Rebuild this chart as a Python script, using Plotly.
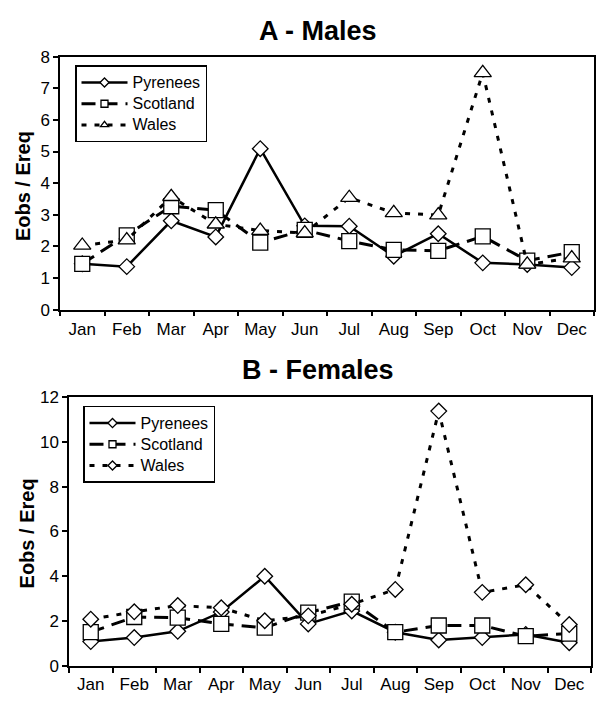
import plotly.graph_objects as go

months = ["Jan", "Feb", "Mar", "Apr", "May", "Jun", "Jul", "Aug", "Sep", "Oct", "Nov", "Dec"]

# A - Males
males_pyrenees = [1.45, 1.36, 2.81, 2.30, 5.09, 2.65, 2.64, 1.69, 2.40, 1.48, 1.43, 1.33]
males_scotland = [1.45, 2.35, 3.27, 3.15, 2.12, 2.52, 2.17, 1.89, 1.86, 2.32, 1.55, 1.82]
males_wales = [2.03, 2.20, 3.57, 2.70, 2.50, 2.42, 3.54, 3.06, 2.99, 7.49, 1.43, 1.63]

# B - Females
females_pyrenees = [1.08, 1.26, 1.54, 2.40, 4.00, 1.87, 2.45, 1.50, 1.15, 1.26, 1.40, 1.03]
females_scotland = [1.50, 2.18, 2.15, 1.87, 1.70, 2.37, 2.87, 1.50, 1.80, 1.80, 1.32, 1.44]
females_wales = [2.08, 2.41, 2.69, 2.59, 2.01, 2.23, 2.75, 3.41, 11.38, 3.28, 3.62, 1.84]

series_names = ["Pyrenees", "Scotland", "Wales"]

W, H = 607, 703
FONT = "Liberation Sans, Arial, sans-serif"

def px_x(v):
    return v / W

def px_y(v):
    return 1 - v / H

styles_top = [
    dict(line=dict(color="black", width=2.5, dash="solid"), symbol="diamond", size=12),
    dict(line=dict(color="black", width=3, dash="14px,8px"), symbol="square", size=15),
    dict(line=dict(color="black", width=3, dash="5px,8px"), symbol="triangle-up", size=15),
]
styles_bot = [
    dict(line=dict(color="black", width=2.5, dash="solid"), symbol="diamond", size=12),
    dict(line=dict(color="black", width=3, dash="14px,8px"), symbol="square", size=15),
    dict(line=dict(color="black", width=3, dash="5px,8px"), symbol="diamond", size=12),
]

fig = go.Figure()

def add_panel(data, styles, xa, ya, legend):
    for name, vals, st in zip(series_names, data, styles):
        fig.add_trace(go.Scatter(
            x=months, y=vals, mode="lines+markers", name=name,
            line=st["line"],
            marker=dict(symbol=st["symbol"], size=st["size"], color="white",
                        line=dict(color="black", width=1.3)),
            xaxis=xa, yaxis=ya, showlegend=False, cliponaxis=False,
        ))
    for name, st in zip(series_names, styles):
        fig.add_trace(go.Scatter(
            x=[None], y=[None], mode="lines+markers",
            name="<span style='font-size:16px'>" + name + "</span>",
            line=st["line"],
            marker=dict(symbol=st["symbol"], size=7, color="white",
                        line=dict(color="black", width=1.3)),
            xaxis=xa, yaxis=ya, showlegend=True, legend=legend,
        ))

add_panel([males_pyrenees, males_scotland, males_wales], styles_top, "x", "y", "legend")
add_panel([females_pyrenees, females_scotland, females_wales], styles_bot, "x2", "y2", "legend2")

axis_common = dict(
    showline=True, linecolor="black", linewidth=1.5, mirror=True,
    ticks="outside", ticklen=5, tickcolor="black", tickwidth=1.5,
    showgrid=False, zeroline=False,
    tickfont=dict(family=FONT, size=17, color="black"),
)

legend_common = dict(
    xanchor="left", yanchor="top",
    bordercolor="black", borderwidth=1.5, bgcolor="white",
    font=dict(family=FONT, size=14, color="black"),
    itemwidth=46, tracegroupgap=0,
)

fig.update_layout(
    width=W, height=H,
    margin=dict(l=0, r=0, t=0, b=0),
    paper_bgcolor="white", plot_bgcolor="white",
    font=dict(family=FONT, color="black"),
    xaxis=dict(domain=[px_x(60), px_x(594)], anchor="y", type="category",
               categoryorder="array", categoryarray=months,
               tickson="boundaries", range=[-0.5, 11.5],
               ticklabelstandoff=3, **axis_common),
    yaxis=dict(domain=[px_y(309), px_y(49)], anchor="x", range=[0, 8],
               dtick=1, **axis_common),
    xaxis2=dict(domain=[px_x(69), px_x(591)], anchor="y2", type="category",
                categoryorder="array", categoryarray=months,
                tickson="boundaries", range=[-0.5, 11.5],
                ticklabelstandoff=2, **axis_common),
    yaxis2=dict(domain=[px_y(675), px_y(399)], anchor="x2", range=[0, 12],
                dtick=2, **axis_common),
    legend=dict(x=px_x(75), y=px_y(58), **legend_common),
    legend2=dict(x=px_x(83), y=px_y(408), **legend_common),
    showlegend=True,
)

annotations = [
    dict(text="<b>A - Males</b>", x=px_x(318), y=px_y(23), xref="paper", yref="paper",
         xanchor="center", yanchor="middle", showarrow=False,
         font=dict(family=FONT, size=27, color="black")),
    dict(text="<b>B - Females</b>", x=px_x(318), y=px_y(371), xref="paper", yref="paper",
         xanchor="center", yanchor="middle", showarrow=False,
         font=dict(family=FONT, size=27, color="black")),
    dict(text="<b>Eobs / Ereq</b>", x=px_x(23), y=px_y(182), xref="paper", yref="paper",
         xanchor="center", yanchor="middle", showarrow=False, textangle=-90,
         font=dict(family=FONT, size=20, color="black")),
    dict(text="<b>Eobs / Ereq</b>", x=px_x(27), y=px_y(539), xref="paper", yref="paper",
         xanchor="center", yanchor="middle", showarrow=False, textangle=-90,
         font=dict(family=FONT, size=20, color="black")),
]
fig.update_layout(annotations=annotations)

fig.write_html("out.html")
